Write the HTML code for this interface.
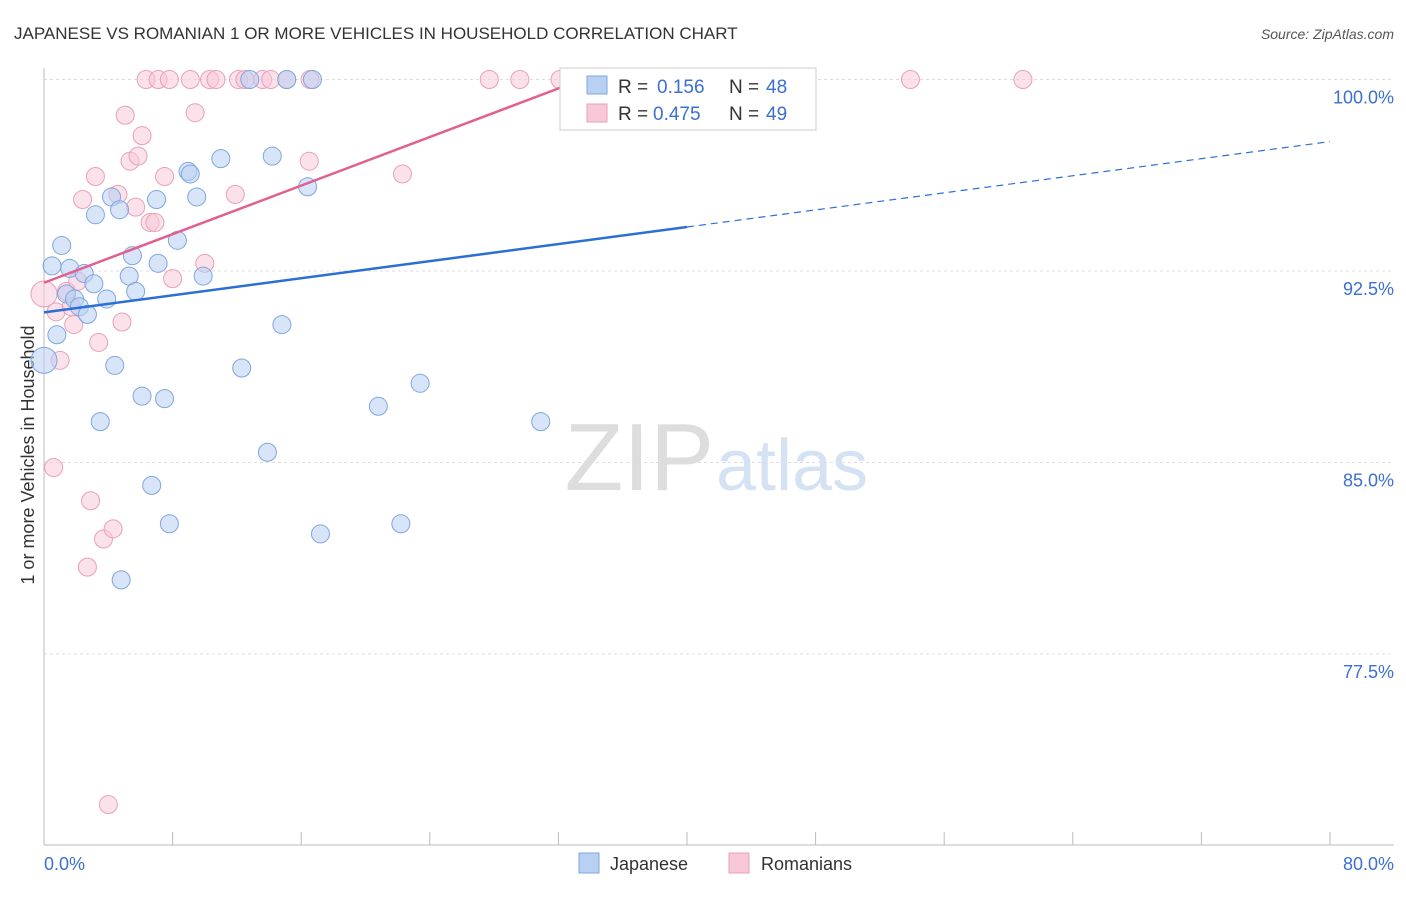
<!DOCTYPE html>
<html><head><meta charset="utf-8"><style>
body{margin:0;background:#fff;font-family:"Liberation Sans",sans-serif;}
svg text{font-family:"Liberation Sans",sans-serif;}
</style></head><body>
<svg width="1406" height="892" xmlns="http://www.w3.org/2000/svg">
<text x="14" y="39" font-size="17" fill="#333">JAPANESE VS ROMANIAN 1 OR MORE VEHICLES IN HOUSEHOLD CORRELATION CHART</text>
<text x="1394" y="39" font-size="14" fill="#555" font-style="italic" text-anchor="end">Source: ZipAtlas.com</text>
<g id="grid"></g>
<text x="714" y="490" font-size="96" fill="#ddd" text-anchor="end" font-family="Liberation Serif">ZIP</text>
<text x="716" y="490" font-size="72" fill="#d5e2f3">atlas</text>
<text transform="translate(34,455) rotate(-90)" font-size="18" fill="#333" text-anchor="middle">1 or more Vehicles in Household</text>
<text x="44" y="870" font-size="18" fill="#3b6fd0">0.0%</text>
<text x="1394" y="870" font-size="18" fill="#3b6fd0" text-anchor="end">80.0%</text>
<g id="pts"></g>
<g id="lines"></g>
<g>
<rect x="560" y="68" width="256" height="62" fill="#fff" stroke="#ccc"/>
<rect x="587" y="76" width="20" height="18" fill="#b8d0f2" stroke="#7ea6e0"/>
<rect x="587" y="104" width="20" height="18" fill="#f8c8d8" stroke="#e8a0b8"/>
<text x="618" y="93" font-size="19" fill="#333">R =</text>
<text x="657" y="93" font-size="19" fill="#3b6fd0">0.156</text>
<text x="729" y="93" font-size="19" fill="#333">N =</text>
<text x="766" y="93" font-size="19" fill="#3b6fd0">48</text>
<text x="618" y="120" font-size="19" fill="#333">R =</text>
<text x="653" y="120" font-size="19" fill="#3b6fd0">0.475</text>
<text x="729" y="120" font-size="19" fill="#333">N =</text>
<text x="766" y="120" font-size="19" fill="#3b6fd0">49</text>
</g>
<g>
<rect x="579" y="853" width="20" height="20" fill="#b8d0f2" stroke="#7ea6e0"/>
<text x="610" y="870" font-size="18" fill="#333">Japanese</text>
<rect x="729" y="853" width="20" height="20" fill="#f8c8d8" stroke="#e8a0b8"/>
<text x="761" y="870" font-size="18" fill="#333">Romanians</text>
</g>
</svg>
<script>
const yTicks=[100,92.5,85,77.5];
const yTickLabels=["100.0%","92.5%","85.0%","77.5%"];
const japX=[0,0.5,1.1,1.6,0.8,1.4,1.9,2.2,2.5,2.7,3.1,3.2,3.5,3.9,4.2,4.4,4.7,4.8,5.3,5.5,5.7,6.1,6.7,7,7.1,7.5,7.8,8.3,8.96,9.1,9.5,9.9,11,12.3,12.8,13.9,14.2,14.8,15.1,16.4,16.7,17.2,20.8,22.2,23.4,30.9,36.9,38.9];
const japY=[89,92.7,93.5,92.6,90,91.6,91.4,91.1,92.4,90.8,92,94.7,86.6,91.4,95.4,88.8,94.9,80.4,92.3,93.1,91.7,87.6,84.1,95.3,92.8,87.5,82.6,93.7,96.4,96.3,95.4,92.3,96.9,88.7,100,85.4,97,90.4,100,95.8,100,82.2,87.2,82.6,88.1,86.6,100,100];
const romX=[0,0.6,0.75,1,1.4,1.7,1.85,2.1,2.4,2.7,2.9,3.2,3.4,3.7,4.0,4.3,4.6,4.85,5.05,5.35,5.7,5.85,6.1,6.35,6.6,6.9,7.1,7.5,7.8,9.1,9.4,10.0,10.3,10.7,11.9,12.1,12.5,13.6,14.1,15.1,16.5,16.55,22.3,27.7,29.6,32.1,53.9,60.9,8.0];
const romY=[91.6,84.8,90.9,89,91.7,91.1,90.4,92.1,95.3,80.9,83.5,96.2,89.7,82,71.6,82.4,95.5,90.5,98.6,96.8,95,97,97.8,100,94.4,94.4,100,96.2,100,100,98.7,92.8,100,100,95.5,100,100,100,100,100,96.8,100,96.3,100,100,100,100,100,92.2];
const NS="http://www.w3.org/2000/svg";
const X0=44,X1=1330;
const xs=v=>X0+(v/80)*(X1-X0);
const ys=v=>79.5+(100-v)*25.53;
function mk(t,a,parent){const e=document.createElementNS(NS,t);for(const k in a)e.setAttribute(k,a[k]);document.getElementById(parent).appendChild(e);return e;}
yTicks.forEach((t,i)=>{
 const l=mk('line',{x1:X0,x2:1394,y1:ys(t),y2:ys(t),stroke:'#ddd','stroke-dasharray':'3,3'},'grid');
 
 
 const tx=mk('text',{x:1394,y:ys(t)+24,'font-size':18,fill:'#3b6fd0','text-anchor':'end'},'grid');
 tx.textContent=yTickLabels[i];
 
 
});
const ax=mk('line',{x1:X0,x2:X0,y1:68,y2:845,stroke:'#bbb'},'grid');


const bx=mk('line',{x1:X0,x2:1394,y1:845,y2:845,stroke:'#bbb'},'grid');


for(let i=0;i<=10;i++){const t=mk('line',{x1:xs(i*8),x2:xs(i*8),y1:832,y2:845,stroke:'#bbb'},'grid');
 
 }
function dots(X,Y,fill,stroke,name){X.forEach((x,i)=>{
 const r=(i===0)?13:9;
 const c=mk('circle',{cx:xs(x),cy:ys(Y[i]),r:r,fill:fill,'fill-opacity':0.55,stroke:stroke,'stroke-width':1},'pts');
 
 
});}
dots(romX,romY,'#f8c8d8','#e8a0b8','romanian-point');
dots(japX,japY,'#b8d0f2','#7ea6e0','japanese-point');
function fit(X,Y){const n=X.length;let mx=0,my=0;X.forEach((x,i)=>{mx+=x;my+=Y[i];});mx/=n;my/=n;let sxy=0,sxx=0;X.forEach((x,i)=>{sxy+=(x-mx)*(Y[i]-my);sxx+=(x-mx)**2;});const b=sxy/sxx;return [my-b*mx,b];}
const [ja,jb]=fit(japX,japY);const [ra,rb]=fit(romX,romY);
let l=mk('line',{x1:xs(0),y1:ys(ja),x2:xs(40),y2:ys(ja+jb*40),stroke:'#2b6fd6','stroke-width':2.5},'lines');


l=mk('line',{x1:xs(40),y1:ys(ja+jb*40),x2:xs(80),y2:ys(ja+jb*80),stroke:'#2b6fd6','stroke-width':1.2,'stroke-dasharray':'7,5'},'lines');


const rEnd=Math.min(80,(100-ra)/rb);
l=mk('line',{x1:xs(0),y1:ys(ra),x2:xs(rEnd),y2:ys(ra+rb*rEnd),stroke:'#e0608f','stroke-width':2.5},'lines');


</script>
</body></html>
